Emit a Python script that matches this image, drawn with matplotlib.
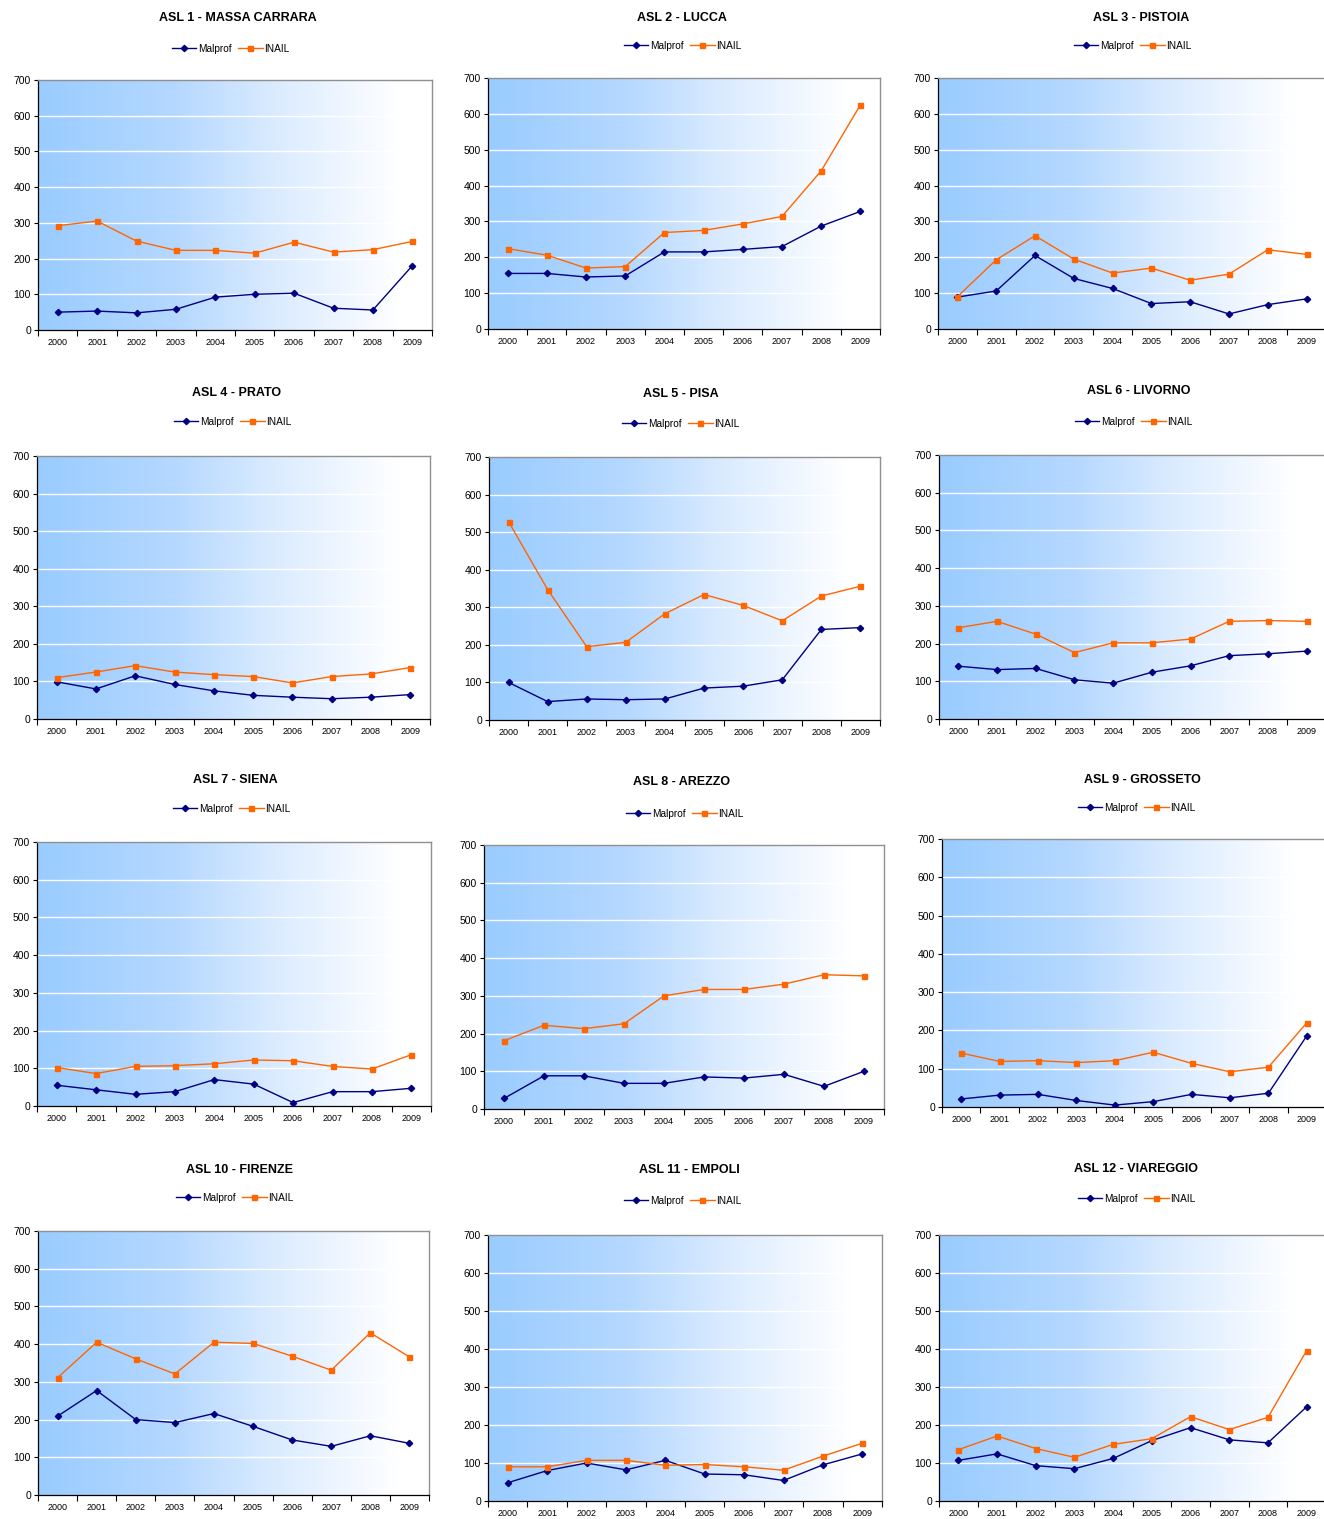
import numpy as np
import matplotlib
matplotlib.use("Agg")
import matplotlib.pyplot as plt
from matplotlib.colors import LinearSegmentedColormap

plt.rcParams["font.family"] = ["Liberation Sans", "DejaVu Sans"]

years = ["2000", "2001", "2002", "2003", "2004", "2005", "2006", "2007", "2008", "2009"]

titles = [
    "ASL 1 - MASSA CARRARA", "ASL 2 - LUCCA", "ASL 3 - PISTOIA",
    "ASL 4 - PRATO", "ASL 5 - PISA", "ASL 6 - LIVORNO",
    "ASL 7 - SIENA", "ASL 8 - AREZZO", "ASL 9 - GROSSETO",
    "ASL 10 - FIRENZE", "ASL 11 - EMPOLI", "ASL 12 - VIAREGGIO",
]

malprof = [
    [50, 53, 48, 58, 92, 100, 103, 61, 56, 180],
    [155, 155, 145, 148, 215, 215, 222, 230, 287, 328],
    [89, 106, 205, 141, 113, 71, 76, 42, 68, 84],
    [99, 80, 115, 92, 75, 63, 58, 54, 58, 65],
    [100, 49, 56, 54, 56, 85, 90, 107, 241, 246],
    [140, 131, 134, 104, 95, 124, 141, 168, 173, 180],
    [55, 43, 31, 38, 70, 58, 9, 38, 38, 47],
    [28, 88, 88, 68, 68, 85, 82, 92, 60, 100],
    [21, 31, 33, 17, 5, 14, 33, 24, 36, 186],
    [209, 277, 200, 192, 216, 182, 146, 129, 157, 137],
    [48, 80, 100, 82, 107, 71, 69, 54, 95, 124],
    [107, 124, 93, 85, 112, 159, 193, 161, 153, 248],
]

inail = [
    [292, 305, 249, 223, 223, 215, 246, 218, 225, 248],
    [224, 206, 170, 174, 269, 275, 293, 314, 441, 625],
    [90, 193, 260, 195, 156, 170, 136, 153, 221, 208],
    [110, 125, 142, 125, 118, 113, 96, 113, 120, 137],
    [528, 347, 195, 207, 283, 334, 305, 264, 330, 356],
    [242, 259, 225, 176, 202, 202, 212, 259, 261, 259],
    [102, 86, 105, 107, 112, 122, 120, 105, 98, 136],
    [181, 222, 213, 226, 300, 317, 317, 331, 356, 353],
    [141, 119, 121, 116, 121, 143, 114, 92, 104, 220],
    [311, 405, 361, 321, 405, 402, 368, 331, 430, 366],
    [90, 90, 107, 107, 94, 96, 90, 81, 118, 152],
    [135, 171, 138, 115, 149, 164, 222, 188, 220, 396],
]

# layout in pixels: axes (left, right, top, bottom), title (x, y), legend (x, y)
W, H = 1324, 1519
layout = [
    ((38, 432, 80, 330), (238, 18), (231, 49)),
    ((488, 880, 78, 329), (682, 18), (683, 46)),
    ((938, 1326, 78, 329), (1141, 18), (1133, 46)),
    ((37, 430, 456, 719), (237, 393), (233, 422)),
    ((489, 880, 457, 720), (681, 394), (681, 424)),
    ((939, 1326, 455, 719), (1139, 391), (1134, 422)),
    ((37, 431, 842, 1106), (235, 780), (232, 809)),
    ((484, 884, 845, 1109), (682, 782), (685, 814)),
    ((942, 1326, 839, 1107), (1142, 780), (1137, 808)),
    ((38, 429, 1231, 1495), (239, 1170), (235, 1198)),
    ((488, 882, 1235, 1501), (689, 1170), (683, 1201)),
    ((939, 1326, 1235, 1501), (1136, 1169), (1137, 1199)),
]

grad = LinearSegmentedColormap.from_list(
    "bg", [(0.0, "#99CCFF"), (0.35, "#B5D8FF"), (0.6, "#DAEBFF"), (0.92, "#FFFFFF"), (1.0, "#FFFFFF")])

fig = plt.figure(figsize=(W / 100, H / 100), dpi=100)
x = np.arange(len(years))

for i, title in enumerate(titles):
    (l, r, t, b), (tx, ty), (lx, ly) = layout[i]
    ax = fig.add_axes([l / W, 1 - b / H, (r - l) / W, (b - t) / H])
    ax.imshow(np.linspace(0, 1, 256).reshape(1, -1), cmap=grad, aspect="auto",
              extent=(-0.5, 9.5, 0, 700), zorder=0)
    for yv in range(100, 700, 100):
        ax.axhline(yv, color="white", lw=1, zorder=1)
    ax.plot(x, malprof[i], color="#000080", marker="D", ms=3.2, lw=1,
            label="Malprof", zorder=3)
    ax.plot(x, inail[i], color="#FF6600", marker="s", ms=3.6, lw=1,
            label="INAIL", zorder=3)
    ax.set_xlim(-0.5, 9.5)
    ax.set_ylim(0, 700)
    ax.set_yticks(range(0, 800, 100))
    ax.tick_params(axis="y", labelsize=7.5, length=3, width=0.8, pad=2)
    ax.set_xticks(np.arange(-0.5, 10, 1))
    ax.set_xticklabels([])
    ax.set_xticks(x, minor=True)
    ax.set_xticklabels(years, minor=True, fontsize=6.5)
    ax.tick_params(axis="x", which="major", length=4, width=0.8)
    ax.tick_params(axis="x", which="minor", length=0, pad=6)
    for side in ("top", "right"):
        ax.spines[side].set_color("#909090")
        ax.spines[side].set_linewidth(1)
    for side in ("left", "bottom"):
        ax.spines[side].set_color("black")
        ax.spines[side].set_linewidth(0.9)
    fig.text(tx / W, 1 - ty / H, title, ha="center", va="center",
             fontsize=9, fontweight="bold")
    ax.legend(loc="center", bbox_to_anchor=(lx / W, 1 - ly / H),
              bbox_transform=fig.transFigure, ncol=2, frameon=False,
              fontsize=7.3, handlelength=2.4, handletextpad=0.2,
              columnspacing=0.6, borderpad=0)

fig.savefig("out.png", dpi=100)
